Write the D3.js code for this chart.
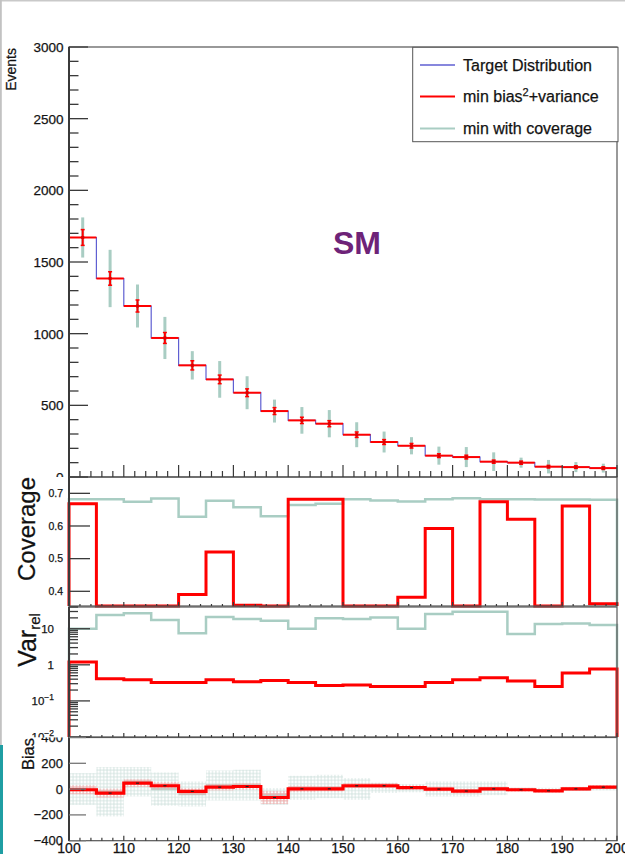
<!DOCTYPE html>
<html><head><meta charset="utf-8">
<script src="https://cdn.jsdelivr.net/npm/d3@7"></script>
<style>body{margin:0;background:#fff}svg{display:block;font-family:"Liberation Sans",Arial,Helvetica,sans-serif}
text{stroke:#1a1a1a;stroke-width:0.25px}</style>
</head><body><svg id="c" width="625" height="854"></svg>
<script>
// ---------- DATA ----------
const binLow = [100,105,110,115,120,125,130,135,140,145,150,155,160,165,170,175,180,185,190,195];
const binWidth = 5;
const target    = [1671,1385,1193,970,779,681,588,460,395,372,295,244,218,149,139,107,100,72,69,62];
const unfolded  = [1671,1385,1193,970,779,681,588,460,395,372,295,244,218,149,139,107,100,72,69,62];
const unfoldErr = [55,47,42,38,32,30,27,24,22,21,19,17,16,13,13,11,11,9,9,9];
const covErr    = [140,200,150,147,99,128,115,80,93,95,87,73,60,63,70,65,35,47,35,31];
const coverageRed   = [0.668,0.33,0.33,0.33,0.39,0.52,0.357,0.33,0.682,0.682,0.33,0.33,0.382,0.592,0.33,0.674,0.621,0.33,0.661,0.362];
const coverageGreen = [0.682,0.682,0.674,0.684,0.628,0.677,0.657,0.630,0.664,0.668,0.682,0.678,0.675,0.682,0.685,0.682,0.682,0.681,0.681,0.680];
const varRed   = [1.19,0.41,0.385,0.325,0.325,0.385,0.34,0.37,0.325,0.268,0.275,0.25,0.25,0.325,0.385,0.437,0.355,0.25,0.59,0.76];
const varGreen = [10,24,27,17.5,7.5,21,18.7,16.7,10,19.5,18.7,20.5,10,25.5,29.5,29.5,7.2,13.5,14,12.7];
const biasRed    = [-5,-31,46,26,-18,15,20,-65,2,2,26,26,12,0,-15,2,-5,-13,2,15];
const biasRedErr = [35,35,30,30,25,25,25,50,25,20,20,20,18,18,18,15,15,15,15,15];
const biasGreen   = [-5,-20,55,0,-38,28,30,-45,10,10,20,20,10,0,-10,0,-5,-10,0,10];
const biasGreenLo = [-122,-212,-57,-129,-135,-88,-88,-122,-83,-70,-83,-30,-25,-57,-57,-47,-10,-10,-10,-10];
const biasGreenHi = [124,171,171,129,59,144,150,8,103,111,85,50,40,59,59,59,10,10,10,10];
// tick labels
const xTickLabels = [100,110,120,130,140,150,160,170,180,190,200];
const eventsTicks = [0,500,1000,1500,2000,2500,3000];
const coverageTicks = [0.4,0.5,0.6,0.7];
const varTicks = [0.01,0.1,1,10];
const varTickExp = ["-2","-1","",""];
const biasTicks = [-400,-200,0,200,400];
const legendLabels = ["Target Distribution","min bias","min with coverage"];

// ---------- LAYOUT ----------
const C_BLUE = "#5f5fd2", C_RED = "#ff0000", C_GREEN = "#a9cdc3", C_FRAME = "#3a3a3a";
const X0 = 69, X1 = 617;
const svg = d3.select("#c");
const x = d3.scaleLinear().domain([100,200]).range([X0,X1]);
const yTop = d3.scaleLinear().domain([0,3000]).range([477,47]);
const yCov = d3.scaleLinear().domain([0.355,0.75]).range([606,477]).clamp(true);
const yVar = d3.scaleLog().domain([0.01,40]).range([737,607]).clamp(true);
const yBias = d3.scaleLinear().domain([-400,400]).range([840.7,737.5]);

// frame lines of whole picture
svg.append("rect").attr("x",0).attr("y",0).attr("width",625).attr("height",1.5).attr("fill","#c9c9c9");
svg.append("rect").attr("x",0).attr("y",0).attr("width",1.8).attr("height",745).attr("fill","#c2c2c2");
svg.append("rect").attr("x",0).attr("y",745).attr("width",3).attr("height",109).attr("fill","#1f9ea3");

const defs = svg.append("defs");
function clip(id, y0, y1){
  defs.append("clipPath").attr("id",id).append("rect").attr("x",X0-2).attr("y",y0).attr("width",X1-X0+4).attr("height",y1-y0);
}
clip("cTop",46,477); clip("cCov",476,608); clip("cVar",606,738.5); clip("cBias",737,842);
defs.append("clipPath").attr("id","lblTop").append("rect").attr("x",0).attr("y",0).attr("width",68).attr("height",477);
defs.append("clipPath").attr("id","lblVar").append("rect").attr("x",0).attr("y",600).attr("width",68).attr("height",137.3);
defs.append("clipPath").attr("id","lblBias").append("rect").attr("x",0).attr("y",737.6).attr("width",68).attr("height",110);
function hatch(id, col){
  const p = defs.append("pattern").attr("id",id).attr("patternUnits","userSpaceOnUse").attr("width",3.4).attr("height",3.4);
  p.append("path").attr("d","M0,1.7H3.4M1.7,0V3.4").attr("stroke",col).attr("stroke-width",0.9);
}
hatch("hG","#d2e3df"); hatch("hR","#f7a8a8");

function stepPath(vals, y, fromBase, toBase){
  const base = y.range()[0];
  let d = "";
  vals.forEach((v,i)=>{
    const xl = x(binLow[i]), xr = x(binLow[i]+binWidth), yy = y(v);
    if(i===0) d += fromBase ? `M${xl},${base}L${xl},${yy}` : `M${xl},${yy}`;
    else d += `L${xl},${yy}`;
    d += `L${xr},${yy}`;
  });
  if(toBase) d += `L${X1},${base}`;
  return d;
}

// ---------- TOP PANEL ----------
const gTop = svg.append("g").attr("clip-path","url(#cTop)");
gTop.selectAll(".ge").data(binLow).join("line")
  .attr("x1",(d)=>x(d+binWidth/2)).attr("x2",(d)=>x(d+binWidth/2))
  .attr("y1",(d,i)=>yTop(unfolded[i]-covErr[i])).attr("y2",(d,i)=>yTop(unfolded[i]+covErr[i]))
  .attr("stroke",C_GREEN).attr("stroke-width",3);
gTop.append("path").attr("d",stepPath(target,yTop,false,false)).attr("fill","none").attr("stroke",C_BLUE).attr("stroke-width",1.2);
gTop.selectAll(".rh").data(binLow).join("line")
  .attr("x1",(d)=>x(d)).attr("x2",(d)=>x(d+binWidth))
  .attr("y1",(d,i)=>yTop(unfolded[i])).attr("y2",(d,i)=>yTop(unfolded[i]))
  .attr("stroke",C_RED).attr("stroke-width",2);
gTop.selectAll(".rv").data(binLow).join("line")
  .attr("x1",(d)=>x(d+binWidth/2)).attr("x2",(d)=>x(d+binWidth/2))
  .attr("y1",(d,i)=>yTop(unfolded[i]-unfoldErr[i])).attr("y2",(d,i)=>yTop(unfolded[i]+unfoldErr[i]))
  .attr("stroke",C_RED).attr("stroke-width",2);
binLow.forEach((d,i)=>{
  [unfolded[i]-unfoldErr[i], unfolded[i]+unfoldErr[i]].forEach(v=>{
    gTop.append("line").attr("x1",x(d+binWidth/2)-2).attr("x2",x(d+binWidth/2)+2)
      .attr("y1",yTop(v)).attr("y2",yTop(v)).attr("stroke",C_RED).attr("stroke-width",1.5);
  });
  gTop.append("rect").attr("x",x(d+binWidth/2)-1.5).attr("y",yTop(unfolded[i])-1.5).attr("width",3).attr("height",3).attr("fill","#dd0000");
});
svg.append("text").attr("x",333).attr("y",254).attr("font-size",32).attr("font-weight","bold").attr("fill","#6e2378").style("stroke","none").text("SM");

// ---------- COVERAGE ----------
const gCov = svg.append("g").attr("clip-path","url(#cCov)");
gCov.append("path").attr("d",stepPath(coverageGreen,yCov,true,true)).attr("fill","none").attr("stroke",C_GREEN).attr("stroke-width",2.5);
gCov.append("path").attr("d",stepPath(coverageRed,yCov,true,true)).attr("fill","none").attr("stroke",C_RED).attr("stroke-width",3);

// ---------- VAR ----------
const gVar = svg.append("g").attr("clip-path","url(#cVar)");
gVar.append("path").attr("d",stepPath(varGreen,yVar,true,true)).attr("fill","none").attr("stroke",C_GREEN).attr("stroke-width",2.5);
gVar.append("path").attr("d",stepPath(varRed,yVar,true,true)).attr("fill","none").attr("stroke",C_RED).attr("stroke-width",3);

// ---------- BIAS ----------
const gBias = svg.append("g").attr("clip-path","url(#cBias)");
gBias.selectAll(".gb").data(binLow).join("rect")
  .attr("x",(d)=>x(d)).attr("width",x(binLow[1])-x(binLow[0]))
  .attr("y",(d,i)=>yBias(biasGreenHi[i])).attr("height",(d,i)=>yBias(biasGreenLo[i])-yBias(biasGreenHi[i]))
  .attr("fill","url(#hG)");
gBias.selectAll(".gl").data(binLow).join("line")
  .attr("x1",(d)=>x(d)).attr("x2",(d)=>x(d+binWidth))
  .attr("y1",(d,i)=>yBias(biasGreen[i])).attr("y2",(d,i)=>yBias(biasGreen[i]))
  .attr("stroke","#b9d3cc").attr("stroke-width",2.5);
gBias.selectAll(".rb").data(binLow).join("rect")
  .attr("x",(d)=>x(d)).attr("width",x(binLow[1])-x(binLow[0]))
  .attr("y",(d,i)=>yBias(biasRed[i]+biasRedErr[i])).attr("height",(d,i)=>yBias(biasRed[i]-biasRedErr[i])-yBias(biasRed[i]+biasRedErr[i]))
  .attr("fill","url(#hR)");
gBias.append("path").attr("d",stepPath(biasRed,yBias,false,false)).attr("fill","none").attr("stroke",C_RED).attr("stroke-width",3.2);
gBias.selectAll(".bm").data(binLow).join("line")
  .attr("x1",(d)=>x(d+binWidth/2)-1.5).attr("x2",(d)=>x(d+binWidth/2)+1.5)
  .attr("y1",(d,i)=>yBias(biasRed[i])).attr("y2",(d,i)=>yBias(biasRed[i]))
  .attr("stroke","#222").attr("stroke-width",1.2);

// ---------- FRAMES & AXES ----------
function frame(y0,y1){
  svg.append("rect").attr("x",X0).attr("y",y0).attr("width",X1-X0).attr("height",y1-y0)
    .attr("fill","none").attr("stroke","#555").attr("stroke-width",1.2);
  svg.append("line").attr("x1",X0).attr("x2",X0).attr("y1",y0).attr("y2",y1).attr("stroke",C_FRAME).attr("stroke-width",2);
}
frame(47,477); frame(477,606); frame(607,737); frame(737.5,840.7);

function yTicks(scale, values, len, col, w){
  svg.append("g").selectAll("line").data(values).join("line")
    .attr("x1",X0).attr("x2",X0+len).attr("y1",d=>scale(d)).attr("y2",d=>scale(d))
    .attr("stroke",col||C_FRAME).attr("stroke-width",w||1.3);
}
function xTicks(yBase, values, len, col){
  svg.append("g").selectAll("line").data(values).join("line")
    .attr("x1",d=>x(d)).attr("x2",d=>x(d)).attr("y1",yBase).attr("y2",yBase-len)
    .attr("stroke",col||C_FRAME).attr("stroke-width",1.2);
}
const xMajor = xTickLabels;
const xMinor = d3.range(100,200,2).filter(v=>v%10!==0);
// top
yTicks(yTop, eventsTicks, 19);
yTicks(yTop, d3.range(0,3000,100).filter(v=>v%500!==0), 9.5);
xTicks(477, xMajor, 12); xTicks(477, xMinor, 6);
svg.append("g").attr("clip-path","url(#lblTop)").selectAll("text").data(eventsTicks).join("text")
  .attr("x",63.5).attr("y",d=>yTop(d)+5).attr("text-anchor","end").attr("font-size",13.5).attr("fill","#111").text(d=>d);
svg.append("text").attr("transform","translate(15.5,48) rotate(-90)").attr("text-anchor","end").attr("font-size",14).attr("fill","#111").text("Events");
// coverage
yTicks(yCov, coverageTicks, 21);
xTicks(606, xMajor, 4); xTicks(606, xMinor, 2);
svg.append("g").selectAll("text").data(coverageTicks).join("text")
  .attr("x",63).attr("y",d=>yCov(d)+3.8).attr("text-anchor","end").attr("font-size",10.5).attr("fill","#111").text(d=>d.toFixed(1));
svg.append("text").attr("transform","translate(35,529) rotate(-90)").attr("text-anchor","middle").attr("font-size",24).attr("fill","#111").text("Coverage");
// var
yTicks(yVar, varTicks, 21);
const varMinor = [];
varTicks.forEach(dec=>{ [2,3,4,5,6,7,8,9].forEach(m=>{ const v=dec*m; if(v<=40) varMinor.push(v); }); });
yTicks(yVar, varMinor, 9);
xTicks(737, xMajor, 4); xTicks(737, xMinor, 2);
const vl = svg.append("g").attr("clip-path","url(#lblVar)").selectAll("text").data(varTicks).join("text")
  .attr("x",54).attr("y",(d)=>yVar(d)+4).attr("text-anchor","end").attr("font-size",11.5).attr("fill","#111");
vl.append("tspan").text(d=>d>=1? String(d) : "10");
vl.filter((d)=>varTickExp[varTicks.indexOf(d)]!=="").append("tspan").attr("dy",-5).attr("font-size",8.5)
  .text(d=>"\u2212"+varTickExp[varTicks.indexOf(d)].replace("-",""));
const vt = svg.append("text").attr("transform","translate(36,640) rotate(-90)").attr("text-anchor","middle").attr("fill","#111");
vt.append("tspan").attr("font-size",25).text("Var");
vt.append("tspan").attr("font-size",15).attr("dy",4).text("rel");
// bias
yTicks(yBias, biasTicks, 17, "#777", 1.3);
xTicks(840.7, xMajor, 5); xTicks(840.7, xMinor, 3);
svg.append("g").attr("clip-path","url(#lblBias)").selectAll("text").data(biasTicks).join("text")
  .attr("x",63).attr("y",d=>yBias(d)+4.5).attr("text-anchor","end").attr("font-size",13).attr("fill","#111")
  .text(d=>d<0? "\u2212"+Math.abs(d) : d);
svg.append("text").attr("transform","translate(33.5,738) rotate(-90)").attr("text-anchor","end").attr("font-size",16.5).attr("fill","#111").text("Bias");
svg.append("g").selectAll("text").data(xTickLabels).join("text")
  .attr("x",d=>x(d)).attr("y",852.5).attr("text-anchor","middle").attr("font-size",14).attr("fill","#111").text(d=>d);

// ---------- LEGEND ----------
const lg = svg.append("g");
lg.append("rect").attr("x",412.7).attr("y",47.3).attr("width",618-412.7).attr("height",141.7-47.3)
  .attr("fill","#fff").attr("stroke","#555").attr("stroke-width",1);
const legCols = [C_BLUE, C_RED, C_GREEN];
const legY = [65, 96.5, 128.5];
legCols.forEach((c,i)=>{
  lg.append("line").attr("x1",420).attr("x2",455).attr("y1",legY[i]).attr("y2",legY[i]).attr("stroke",c).attr("stroke-width",i===0?1.5:2);
  const t = lg.append("text").attr("x",463).attr("y",legY[i]+5.5).attr("font-size",16).attr("fill","#111");
  t.append("tspan").text(legendLabels[i]);
  if(i===1){
    t.append("tspan").attr("font-size",11).attr("dy",-6).text("2");
    t.append("tspan").attr("dy",6).text("+variance");
  }
});
</script></body></html>
